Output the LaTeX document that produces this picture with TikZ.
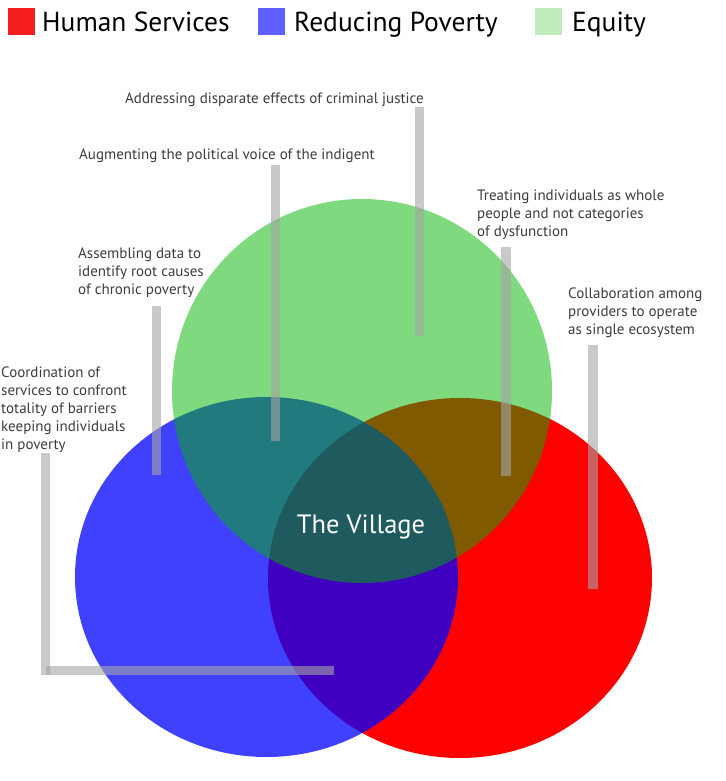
\documentclass[tikz,border=0pt]{standalone}
\usepackage{fontspec}
\setmainfont{PT Sans}
\definecolor{hsred}{RGB}{255,0,0}
\definecolor{rpblue}{RGB}{0,0,255}
\definecolor{eqgreen}{RGB}{0,180,0}
\definecolor{leghs}{RGB}{245,30,30}
\definecolor{legrp}{RGB}{96,96,255}
\definecolor{legeq}{RGB}{192,236,192}
\definecolor{labgray}{RGB}{60,60,60}
\definecolor{bargray}{RGB}{165,165,165}
\newcommand\lines[1]{\begin{tabular}[t]{@{}l@{}}#1\end{tabular}}
\tikzset{
  lbl/.style={anchor=base west, inner sep=0pt, text=labgray, font=\fontsize{15}{18}\selectfont},
  legtext/.style={anchor=base west, inner sep=0pt, text=black, font=\fontsize{27.5}{30}\selectfont},
  bar/.style={fill=bargray, fill opacity=0.6},
}
\begin{document}
\begin{tikzpicture}[x=1pt,y=-1pt]
\useasboundingbox (0,0) rectangle (725,781);
% legend
\fill[leghs] (8,8) rectangle (35,35);
\node[legtext] (lhs) at (42,32) {Human Services};
\fill[legrp] (258,8) rectangle (285,35);
\node[legtext] (lrp) at (294,32) {Reducing Poverty};
\fill[legeq] (535,8) rectangle (562,35);
\node[legtext] (leq) at (572,32) {Equity};
% circles
\fill[hsred] (460,578) ellipse [x radius=192pt, y radius=180pt];
\fill[rpblue, fill opacity=0.75] (266.5,577) ellipse [x radius=191.5pt, y radius=180pt];
\fill[eqgreen, fill opacity=0.5] (362,391) ellipse [x radius=190pt, y radius=192pt];
\node[anchor=base, inner sep=0pt, text=white, font=\fontsize{26.5}{30}\selectfont] (vil) at (361,533) {The Village};
% bars
\fill[bar] (415,107) rectangle (424,336);
\fill[bar] (271,165) rectangle (280,441);
\fill[bar] (501,247) rectangle (511,476);
\fill[bar] (588,345) rectangle (598,589);
\fill[bar] (152,306) rectangle (161,475);
\fill[bar] (41,453) rectangle (50,675);
\fill[bar] (46,666) rectangle (334,675);
% labels
\node[lbl] (la) at (125,103) {Addressing disparate effects of criminal justice};
\node[lbl] (lb) at (79,159) {Augmenting the political voice of the indigent};
\node[lbl] (lc) at (477,200) {\lines{Treating individuals as whole\\people and not categories\\of dysfunction}};
\node[lbl] (ld) at (568,298) {\lines{Collaboration among\\providers to operate\\as single ecosystem}};
\node[lbl] (le) at (78,258) {\lines{Assembling data to\\identify root causes\\of chronic poverty}};
\node[lbl] (lf) at (1,377) {\lines{Coordination of\\services to confront\\totality of barriers\\keeping individuals\\in poverty}};
\end{tikzpicture}
\end{document}
